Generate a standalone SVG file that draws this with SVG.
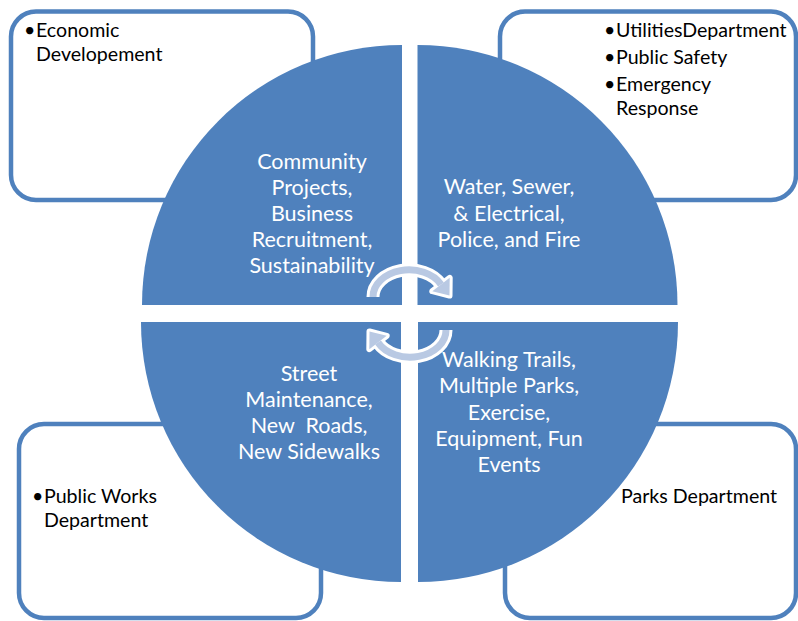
<svg xmlns="http://www.w3.org/2000/svg" width="798" height="621" viewBox="0 0 798 621">
<style>
.box{fill:#fff;stroke:#4F81BD;stroke-width:4.5}
.q{fill:#4F81BD}
.ct{font-family:Lato,"Open Sans",sans-serif;font-size:19.6px;fill:#000}
.qt{font-family:Lato,"Open Sans",sans-serif;font-size:21.5px;fill:#fff;text-anchor:middle}
.aw{fill:none;stroke:#fff;stroke-width:13}
.al{fill:none;stroke:#B9C9E3;stroke-width:7}
.hw{fill:#fff;stroke:#fff;stroke-width:6;stroke-linejoin:round}
.hl{fill:#B9C9E3}
</style>
<g id="box-tl"><rect class="box" x="11" y="11.5" width="302" height="188.5" rx="25"/>
<text class="ct" x="24" y="37">•</text><text class="ct" x="36" y="37">Economic</text><text class="ct" x="36" y="61">Developement</text></g>
<g id="box-tr"><rect class="box" x="500" y="11.5" width="296" height="188.5" rx="25"/>
<text class="ct" x="604" y="37">•</text><text class="ct" x="616" y="37">UtilitiesDepartment</text>
<text class="ct" x="604" y="64">•</text><text class="ct" x="616" y="64">Public Safety</text>
<text class="ct" x="604" y="91">•</text><text class="ct" x="616" y="91">Emergency</text><text class="ct" x="616" y="115">Response</text></g>
<g id="box-bl"><rect class="box" x="19" y="424" width="302" height="194" rx="25"/>
<text class="ct" x="32" y="503">•</text><text class="ct" x="44" y="503">Public Works</text><text class="ct" x="44" y="527">Department</text></g>
<g id="box-br"><rect class="box" x="505" y="424" width="291" height="194" rx="25"/>
<text class="ct" x="621" y="503">Parks Department</text></g>
<g id="q-tl"><path class="q" d="M402 305 L142 305 A260 260 0 0 1 402 45 Z"/>
<text class="qt" x="312" y="169">Community</text><text class="qt" x="312" y="195">Projects,</text><text class="qt" x="312" y="221">Business</text><text class="qt" x="312" y="247">Recruitment,</text><text class="qt" x="312" y="273">Sustainability</text></g>
<g id="q-tr"><path class="q" d="M417.5 305 L417.5 45 A260 260 0 0 1 677.5 305 Z"/>
<text class="qt" x="509" y="194">Water, Sewer,</text><text class="qt" x="509" y="221">&amp; Electrical,</text><text class="qt" x="509" y="247">Police, and Fire</text></g>
<g id="q-bl"><path class="q" d="M401 322 L401 582 A260 260 0 0 1 141 322 Z"/>
<text class="qt" x="309" y="381">Street</text><text class="qt" x="309" y="407">Maintenance,</text><text class="qt" x="309" y="433" xml:space="preserve">New  Roads,</text><text class="qt" x="309" y="459">New Sidewalks</text></g>
<g id="q-br"><path class="q" d="M418 322 L678 322 A260 260 0 0 1 418 582 Z"/>
<text class="qt" x="509" y="367">Walking Trails,</text><text class="qt" x="509" y="393">Multiple Parks,</text><text class="qt" x="509" y="420">Exercise,</text><text class="qt" x="509" y="446">Equipment, Fun</text><text class="qt" x="509" y="472">Events</text></g>
<g id="connectors">
<path class="aw" d="M373 297 A36 27 0 0 1 441 284.5"/>
<polygon class="hw" points="449.7,277.8 449.5,295.6 432.3,291.2"/>
<path class="al" d="M373 297 A36 27 0 0 1 441 284.5"/>
<polygon class="hl" points="449.7,277.8 449.5,295.6 432.3,291.2"/>
<path class="aw" d="M446 330 A36 27 0 0 1 378 342.5"/>
<polygon class="hw" points="369.3,349.2 369.5,331.4 386.7,335.8"/>
<path class="al" d="M446 330 A36 27 0 0 1 378 342.5"/>
<polygon class="hl" points="369.3,349.2 369.5,331.4 386.7,335.8"/>
</g>
</svg>
